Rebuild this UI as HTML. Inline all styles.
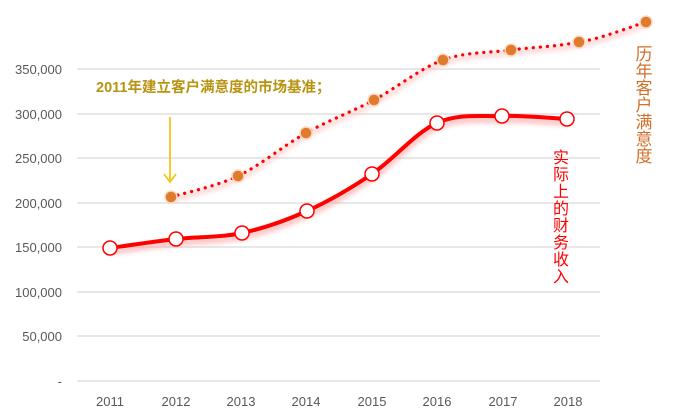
<!DOCTYPE html>
<html><head><meta charset="utf-8"><style>
html,body{margin:0;padding:0;background:#fff;width:699px;height:419px;overflow:hidden}
svg{display:block}
</style></head><body>
<svg width="699" height="419" viewBox="0 0 699 419" xmlns="http://www.w3.org/2000/svg">
<defs>
<filter id="gl" x="-10%" y="-30%" width="120%" height="160%"><feGaussianBlur stdDeviation="2.5"/></filter>
</defs>
<g stroke="#d9d9d9" stroke-width="1.2">
<line x1="77" x2="600" y1="69" y2="69"/><line x1="77" x2="600" y1="114" y2="114"/>
<line x1="77" x2="600" y1="158" y2="158"/><line x1="77" x2="600" y1="203" y2="203"/>
<line x1="77" x2="600" y1="247" y2="247"/><line x1="77" x2="600" y1="292" y2="292"/>
<line x1="77" x2="600" y1="336" y2="336"/><line x1="77" x2="600" y1="381" y2="381"/>
</g>
<g font-family="Liberation Sans, sans-serif" font-size="13" fill="#595959" text-anchor="end">
<text x="62" y="74">350,000</text><text x="62" y="119">300,000</text>
<text x="62" y="163">250,000</text><text x="62" y="208">200,000</text>
<text x="62" y="252">150,000</text><text x="62" y="297">100,000</text>
<text x="62" y="341">50,000</text><text x="62" y="386">-</text>
</g>
<g font-family="Liberation Sans, sans-serif" font-size="13" fill="#595959" text-anchor="middle">
<text x="110" y="406">2011</text><text x="176" y="406">2012</text><text x="241" y="406">2013</text>
<text x="306" y="406">2014</text><text x="372" y="406">2015</text><text x="437" y="406">2016</text>
<text x="503" y="406">2017</text><text x="568" y="406">2018</text>
</g>
<path d="M110,248 C121,246.5 154,241.5 176,239 C198,236.5 220,237.7 242,233 C263.8,228.3 285.3,220.8 307,211 C328.7,201.2 350.3,188.7 372,174 C393.7,159.3 415.3,132.7 437,123 C458.7,113.3 480.3,116.7 502,116 C523.7,115.3 556.2,118.5 567,119" fill="none" stroke="#ff9a9a" stroke-width="6" opacity="0.6" filter="url(#gl)" transform="translate(0,4)"/>
<path d="M110,248 C121,246.5 154,241.5 176,239 C198,236.5 220,237.7 242,233 C263.8,228.3 285.3,220.8 307,211 C328.7,201.2 350.3,188.7 372,174 C393.7,159.3 415.3,132.7 437,123 C458.7,113.3 480.3,116.7 502,116 C523.7,115.3 556.2,118.5 567,119" fill="none" stroke="#ff0000" stroke-width="4"/>
<path d="M171,197 C182.2,193.5 215.5,186.7 238,176 C260.5,165.3 283.3,145.7 306,133 C328.7,120.3 351.2,112.2 374,100 C396.8,87.8 420.2,68.3 443,60 C465.8,51.7 488.3,53 511,50 C533.7,47 556.5,46.7 579,42 C601.5,38.7 634.8,25.3 646,22" fill="none" stroke="#ffb0b0" stroke-width="5" opacity="0.5" filter="url(#gl)" transform="translate(0,3)"/>
<path d="M171,197 C182.2,193.5 215.5,186.7 238,176 C260.5,165.3 283.3,145.7 306,133 C328.7,120.3 351.2,112.2 374,100 C396.8,87.8 420.2,68.3 443,60 C465.8,51.7 488.3,53 511,50 C533.7,47 556.5,46.7 579,42 C601.5,38.7 634.8,25.3 646,22" fill="none" stroke="#ff0000" stroke-width="3.2" stroke-dasharray="0.1 7" stroke-linecap="round"/>
<g fill="#fff" stroke="#ff0000" stroke-width="1.5">
<circle cx="110" cy="248" r="7"/><circle cx="176" cy="239" r="7"/><circle cx="242" cy="233" r="7"/>
<circle cx="307" cy="211" r="7"/><circle cx="372" cy="174" r="7"/><circle cx="437" cy="123" r="7"/>
<circle cx="502" cy="116" r="7"/><circle cx="567" cy="119" r="7"/>
</g>
<g fill="#e07b2e" stroke="#fbd9c0" stroke-width="1.5">
<circle cx="171" cy="197" r="6"/><circle cx="238" cy="176" r="6"/><circle cx="306" cy="133" r="6"/>
<circle cx="374" cy="100" r="6"/><circle cx="443" cy="60" r="6"/><circle cx="511" cy="50" r="6"/>
<circle cx="579" cy="42" r="6"/><circle cx="646" cy="22" r="6"/>
</g>
<text x="96" y="92" font-family="Liberation Sans, 'Noto Sans CJK SC', sans-serif" font-size="14.5" font-weight="bold" fill="#b8930f">2011年建立客户满意度的市场基准；</text>
<line x1="170" y1="117" x2="170" y2="181" stroke="#f5c518" stroke-width="1.8"/>
<polyline points="164,174 170,182 176,174" fill="none" stroke="#f5c518" stroke-width="1.8"/>
<g font-family="'Noto Sans CJK SC', sans-serif" font-size="16" fill="#ff0000" text-anchor="middle">
<text x="561" y="163">实</text><text x="561" y="180">际</text><text x="561" y="197">上</text>
<text x="561" y="214">的</text><text x="561" y="231">财</text><text x="561" y="248">务</text>
<text x="561" y="265">收</text><text x="561" y="282">入</text>
</g>
<g font-family="'Noto Sans CJK SC', sans-serif" font-size="17" fill="#d0702a" text-anchor="middle">
<text x="644" y="60">历</text><text x="644" y="77">年</text><text x="644" y="94">客</text>
<text x="644" y="111">户</text><text x="644" y="128">满</text><text x="644" y="145">意</text>
<text x="644" y="162">度</text>
</g>
</svg>
</body></html>
